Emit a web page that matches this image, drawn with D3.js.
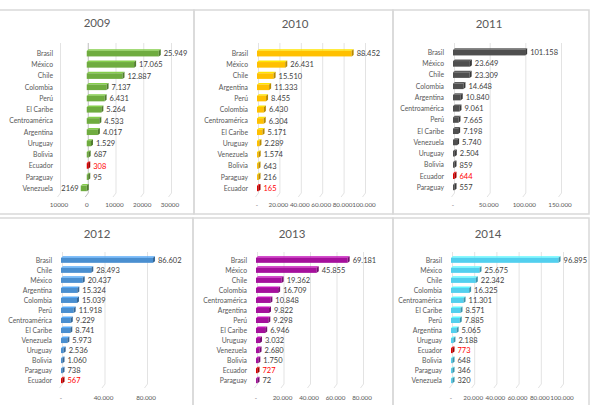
<!DOCTYPE html>
<html>
<head>
<meta charset="utf-8">
<script src="https://cdn.jsdelivr.net/npm/d3@7"></script>
<style>
  html, body { margin: 0; padding: 0; background: #fff; }
  svg { display: block; font-family: Lato, 'Liberation Sans', sans-serif; }
</style>
</head>
<body>
<svg id="chart" width="591" height="405"></svg>
<script>
// Inversión extranjera directa por país, 2009-2014
const cats2009 = ['Brasil', 'México', 'Chile', 'Colombia', 'Perú', 'El Caribe', 'Centroamérica', 'Argentina', 'Uruguay', 'Bolivia', 'Ecuador', 'Paraguay', 'Venezuela'];
const vals2009 = [25949, 17065, 12887, 7137, 6431, 5264, 4533, 4017, 1529, 687, 308, 95, -2169];
const ticks2009 = [-10000, 0, 10000, 20000, 30000];

const cats2010 = ['Brasil', 'México', 'Chile', 'Argentina', 'Perú', 'Colombia', 'Centroamérica', 'El Caribe', 'Uruguay', 'Venezuela', 'Bolivia', 'Paraguay', 'Ecuador'];
const vals2010 = [88452, 26431, 15510, 11333, 8455, 6430, 6304, 5171, 2289, 1574, 643, 216, 165];
const ticks2010 = [0, 20000, 40000, 60000, 80000, 100000];

const cats2011 = ['Brasil', 'México', 'Chile', 'Colombia', 'Argentina', 'Centroamérica', 'Perú', 'El Caribe', 'Venezuela', 'Uruguay', 'Bolivia', 'Ecuador', 'Paraguay'];
const vals2011 = [101158, 23649, 23309, 14648, 10840, 9061, 7665, 7198, 5740, 2504, 859, 644, 557];
const ticks2011 = [0, 50000, 100000, 150000];

const cats2012 = ['Brasil', 'Chile', 'México', 'Argentina', 'Colombia', 'Perú', 'Centroamérica', 'El Caribe', 'Venezuela', 'Uruguay', 'Bolivia', 'Paraguay', 'Ecuador'];
const vals2012 = [86602, 28493, 20437, 15324, 15039, 11918, 9229, 8741, 5973, 2536, 1060, 738, 567];
const ticks2012 = [0, 40000, 80000];

const cats2013 = ['Brasil', 'México', 'Chile', 'Colombia', 'Centroamérica', 'Argentina', 'Perú', 'El Caribe', 'Uruguay', 'Venezuela', 'Bolivia', 'Ecuador', 'Paraguay'];
const vals2013 = [69181, 45855, 19362, 16709, 10848, 9822, 9298, 6946, 3032, 2680, 1750, 727, 72];
const ticks2013 = [0, 20000, 40000, 60000, 80000];

const cats2014 = ['Brasil', 'México', 'Chile', 'Colombia', 'Centroamérica', 'El Caribe', 'Perú', 'Argentina', 'Uruguay', 'Ecuador', 'Bolivia', 'Paraguay', 'Venezuela'];
const vals2014 = [96895, 25675, 22342, 16325, 11301, 8571, 7885, 5065, 2188, 773, 648, 346, 320];
const ticks2014 = [0, 20000, 40000, 60000, 80000, 100000];

const HIGHLIGHT = 'Ecuador';

// layout of the six panels (pixel positions only)
const panels = [
  { title: '2009', cats: cats2009, vals: vals2009, ticks: ticks2009, color: '#6fac3f',
    box: [-2, 10, 196, 204], titleX: 97, titleY: 27, domain: [-10000, 30000], range: [59, 170],
    yRange: [45.2, 196.8], labelX: 53, gridTop: 43, gridBottom: 197, axisY: 206.5, plain: true },
  { title: '2010', cats: cats2010, vals: vals2010, ticks: ticks2010, color: '#ffc000',
    box: [194, 10, 199, 204], titleX: 295, titleY: 28, domain: [0, 100000], range: [257, 364],
    yRange: [45.2, 196.8], labelX: 248, gridTop: 43, gridBottom: 197, axisY: 206.5 },
  { title: '2011', cats: cats2011, vals: vals2011, ticks: ticks2011, color: '#4f4f4f',
    box: [393, 10, 196, 204], titleX: 489, titleY: 28, domain: [0, 150000], range: [453, 560],
    yRange: [44.2, 195.8], labelX: 444, gridTop: 43, gridBottom: 197, axisY: 206.5 },
  { title: '2012', cats: cats2012, vals: vals2012, ticks: ticks2012, color: '#4a8fd0',
    box: [-2, 218, 195, 195], titleX: 97, titleY: 238, domain: [0, 80000], range: [61, 146],
    yRange: [252.8, 388.2], labelX: 52, gridTop: 252, gridBottom: 388, axisY: 399.5 },
  { title: '2013', cats: cats2013, vals: vals2013, ticks: ticks2013, color: '#a5109c',
    box: [193, 218, 200, 195], titleX: 292, titleY: 238, domain: [0, 80000], range: [256, 362],
    yRange: [252.8, 388.2], labelX: 247, gridTop: 252, gridBottom: 388, axisY: 399.5 },
  { title: '2014', cats: cats2014, vals: vals2014, ticks: ticks2014, color: '#52cfee',
    box: [393, 218, 196, 195], titleX: 488, titleY: 238, domain: [0, 100000], range: [451, 562],
    yRange: [252.8, 388.2], labelX: 442, gridTop: 252, gridBottom: 388, axisY: 399.5 }
];

const locale = d3.formatLocale({ decimal: ',', thousands: '.', grouping: [3], currency: ['', ''] });
const fmt = locale.format(',d');

const svg = d3.select('#chart');

panels.forEach((p) => drawPanel(svg, p));

function drawPanel(svg, p) {
  const g = svg.append('g').attr('class', 'panel');

  // panel frame
  g.append('rect')
    .attr('x', p.box[0])
    .attr('y', p.box[1])
    .attr('width', p.box[2])
    .attr('height', p.box[3])
    .attr('fill', 'none')
    .attr('stroke', '#d9d9d9')
    .attr('stroke-width', 1.5);

  g.append('text')
    .attr('x', p.titleX)
    .attr('y', p.titleY)
    .attr('text-anchor', 'middle')
    .style('font-size', '11.5px')
    .style('fill', '#595959')
    .text(p.title);

  const x = d3.scaleLinear().domain(p.domain).range(p.range);
  const y = d3.scaleBand().domain(p.cats).range(p.yRange).padding(0.5);

  // back-wall gridlines with a short slant on the floor
  g.selectAll('path.grid')
    .data(p.ticks)
    .join('path')
    .attr('class', 'grid')
    .attr('d', (t) => `M${x(t) + 1.5},${p.gridTop}V${p.gridBottom - 4}L${x(t) - 1.5},${p.gridBottom}`)
    .attr('fill', 'none')
    .attr('stroke', (t) => (t === 0 && p.plain ? '#bfbfbf' : '#e3e3e3'))
    .attr('stroke-width', 1);

  // tick labels
  g.selectAll('text.tick')
    .data(p.ticks)
    .join('text')
    .attr('class', 'tick')
    .attr('x', (t) => x(t))
    .attr('y', p.axisY)
    .attr('text-anchor', 'middle')
    .style('font-size', '6.3px')
    .style('fill', '#595959')
    .text((t) => (p.plain ? String(Math.abs(t)) : t === 0 ? '-' : fmt(t)));

  // category labels
  g.selectAll('text.cat')
    .data(p.cats)
    .join('text')
    .attr('class', 'cat')
    .attr('x', p.labelX)
    .attr('y', (c) => y(c) + y.bandwidth() / 2)
    .attr('dy', '0.35em')
    .attr('text-anchor', 'end')
    .style('font-size', '6.8px')
    .style('fill', '#595959')
    .text((c) => c);

  const rows = p.cats.map((c, i) => ({ cat: c, value: p.vals[i] }));
  const d = 2; // depth of the 3D look
  const bh = y.bandwidth();

  rows.forEach((r) => {
    const base = r.cat === HIGHLIGHT ? '#e00000' : p.color;
    const x0 = x(Math.min(0, r.value));
    const w = Math.max(1.5, Math.abs(x(r.value) - x(0)));
    const yb = y(r.cat);
    const bar = g.append('g').attr('class', 'bar');

    bar.append('polygon')
      .attr('points', [[x0, yb], [x0 + d, yb - 1.5], [x0 + w + d, yb - 1.5], [x0 + w, yb]].join(' '))
      .attr('fill', d3.color(base).brighter(0.5));

    bar.append('rect')
      .attr('x', x0)
      .attr('y', yb)
      .attr('width', w)
      .attr('height', bh)
      .attr('fill', base);

    bar.append('polygon')
      .attr('points', [[x0 + w, yb], [x0 + w + d, yb - 1.5], [x0 + w + d, yb + bh - 1.5], [x0 + w, yb + bh]].join(' '))
      .attr('fill', d3.color(base).darker(0.9));

    const neg = r.value < 0;
    g.append('text')
      .attr('class', 'value')
      .attr('x', neg ? x0 - 2 : x0 + w + d + 3)
      .attr('y', yb + bh / 2)
      .attr('dy', '0.35em')
      .attr('text-anchor', neg ? 'end' : 'start')
      .style('font-size', '7.5px')
      .style('fill', r.cat === HIGHLIGHT ? '#ff0000' : '#404040')
      .text(neg ? String(Math.abs(r.value)) : fmt(r.value));
  });
}
</script>
</body>
</html>
